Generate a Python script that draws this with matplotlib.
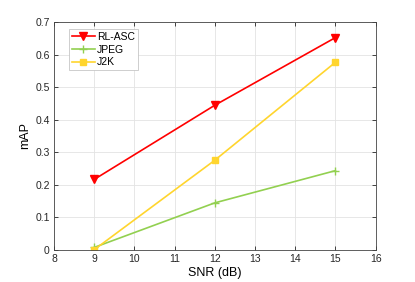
import matplotlib
matplotlib.use('Agg')
import matplotlib.pyplot as plt

snr = [9, 12, 15]
rl_asc = [0.216, 0.444, 0.652]
jpeg = [0.007, 0.144, 0.243]
j2k = [0.0, 0.275, 0.576]

plt.rcParams['font.family'] = 'Liberation Sans'
fig = plt.figure(figsize=(4.15, 2.82), dpi=100)
ax = fig.add_axes([0.130, 0.1145, 0.775, 0.8075])

ax.plot(snr, rl_asc, color='#FF0000', lw=1.2, marker='v', ms=5.5, label='RL-ASC')
ax.plot(snr, jpeg, color='#92D050', lw=1.2, marker='+', ms=5.5, label='JPEG')
ax.plot(snr, j2k, color='#FFD52E', lw=1.2, marker='s', ms=4, label='J2K')

ax.set_xlim(8, 16)
ax.set_ylim(0, 0.7)
ax.set_xticks(range(8, 17))
ax.set_yticks([0, 0.1, 0.2, 0.3, 0.4, 0.5, 0.6, 0.7])
ax.set_yticklabels(['0', '0.1', '0.2', '0.3', '0.4', '0.5', '0.6', '0.7'])
ax.grid(True, color='#E3E3E3', lw=0.6)
ax.set_axisbelow(True)
ax.tick_params(direction='in', labelsize=7.5, length=3, width=0.6, colors='#262626',
               top=True, right=True, pad=3)
for s in ax.spines.values():
    s.set_linewidth(0.6)
    s.set_color('#444444')

ax.set_xlabel('SNR (dB)', fontsize=9, labelpad=2)
ax.set_ylabel('mAP', fontsize=9, labelpad=3)

leg = ax.legend(loc='upper left', fontsize=7.5, fancybox=False, framealpha=1,
                edgecolor='#BBBBBB', handlelength=2.2, borderpad=0.3,
                labelspacing=0.25, handletextpad=0.2, borderaxespad=0,
                bbox_to_anchor=(0.046, 0.97))
leg.get_frame().set_linewidth(0.5)

fig.savefig('out.png', dpi=100)
